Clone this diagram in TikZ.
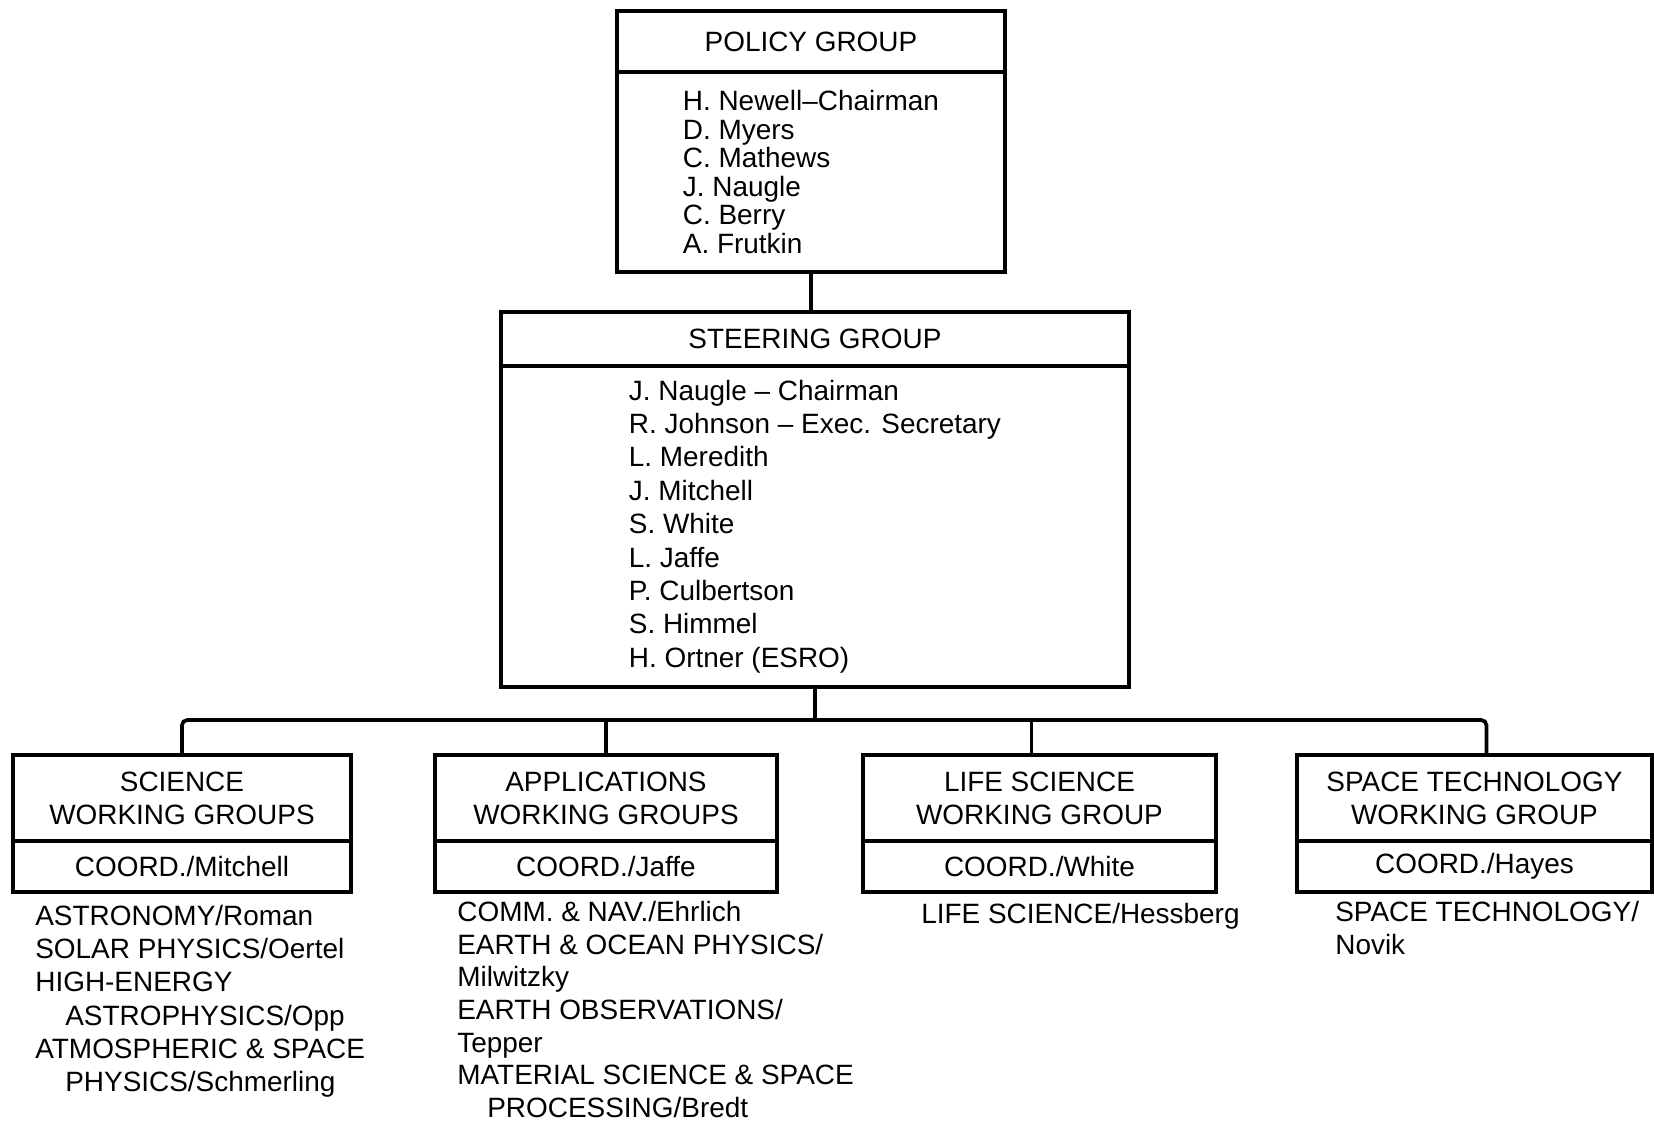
\documentclass[tikz,border=0pt]{standalone}
\usepackage{fontspec}
\setmainfont{Liberation Sans}
\usetikzlibrary{positioning}

\begin{document}
\begin{tikzpicture}[
        x=0.02cm, y=-0.02cm,
        every node/.style={font=\fontsize{15.9}{18.7}\selectfont},
        box/.style={draw, rectangle, line width=1.9pt, inner sep=0pt, outer sep=0pt, align=center, anchor=north west},
        list/.style={align=left, inner sep=0pt, font=\fontsize{15.9}{18.9}\selectfont},
        link/.style={line width=2.1pt, rounded corners=3pt}
    ]
    \useasboundingbox (0,0) rectangle (1654,1123);

    % top of the chart
    \node[box, minimum width=7.76cm, minimum height=1.22cm] (policy) at (617,11) {POLICY GROUP};
    \node[box, below=0pt of policy, minimum width=7.76cm, minimum height=4cm, align=left,
          font=\fontsize{15.9}{16.2}\selectfont] (policy_names)
        {H. Newell--Chairman\\ D. Myers\\ C. Mathews\\ J. Naugle\\ C. Berry\\ A. Frutkin};

    \node[box, minimum width=12.56cm, minimum height=1.08cm] (steering) at (501,312) {STEERING GROUP};
    \node[box, below=0pt of steering, minimum width=12.56cm, minimum height=6.42cm, align=left,
          font=\fontsize{15.9}{19}\selectfont] (steering_names)
        {J. Naugle -- Chairman\\ R. Johnson -- Exec. Secretary\\ L. Meredith\\ J. Mitchell\\ S. White\\
         L. Jaffe\\ P. Culbertson\\ S. Himmel\\ H. Ortner (ESRO)};

    % working groups
    \node[box, minimum width=6.76cm, minimum height=1.72cm] (science) at (13,755) {SCIENCE\\ WORKING GROUPS};
    \node[box, below=0pt of science, minimum width=6.76cm, minimum height=1.02cm] (science_coord) {COORD./Mitchell};

    \node[box, minimum width=6.84cm, minimum height=1.72cm] (applications) at (435,755) {APPLICATIONS\\ WORKING GROUPS};
    \node[box, below=0pt of applications, minimum width=6.84cm, minimum height=1.02cm] (applications_coord) {COORD./Jaffe};

    \node[box, minimum width=7.06cm, minimum height=1.72cm] (life) at (863,755) {LIFE SCIENCE\\ WORKING GROUP};
    \node[box, below=0pt of life, minimum width=7.06cm, minimum height=1.02cm] (life_coord) {COORD./White};

    \node[box, minimum width=7.1cm, minimum height=1.72cm] (spacetech) at (1297,755) {SPACE TECHNOLOGY\\ WORKING GROUP};
    \node[box, below=0pt of spacetech, minimum width=7.1cm, minimum height=1.02cm] (spacetech_coord) {COORD./Hayes};

    % lists under the boxes
    \node[list, below right=0.26cm and 0.44cm of science_coord.south west] (science_list)
        {ASTRONOMY/Roman\\ SOLAR PHYSICS/Oertel\\ HIGH-ENERGY\\ \hspace*{0.6cm}ASTROPHYSICS/Opp\\
         ATMOSPHERIC \& SPACE\\ \hspace*{0.6cm}PHYSICS/Schmerling};
    \node[list, below right=0.18cm and 0.44cm of applications_coord.south west,
          font=\fontsize{15.9}{18.6}\selectfont] (applications_list)
        {COMM. \& NAV./Ehrlich\\ EARTH \& OCEAN PHYSICS/\\ Milwitzky\\ EARTH OBSERVATIONS/\\ Tepper\\
         MATERIAL SCIENCE \& SPACE\\ \hspace*{0.6cm}PROCESSING/Bredt};
    \node[list, below right=0.22cm and 1.16cm of life_coord.south west] (life_list) {LIFE SCIENCE/Hessberg};
    \node[list, below right=0.18cm and 0.76cm of spacetech_coord.south west] (spacetech_list)
        {SPACE TECHNOLOGY/\\ Novik};

    % connectors
    \coordinate (bus) at (815,720);
    \draw[link] (policy_names.south) -- (policy_names.south |- steering.north);
    \draw[link] (steering_names.south) -- (bus);
    \draw[link] (science.north) |- (bus) -| ([xshift=0.24cm]spacetech.north);
    \draw[link] (applications.north) -- (applications.north |- bus);
    \draw[link] ([xshift=-0.16cm]life.north) -- ([xshift=-0.16cm]life.north |- bus);

\end{tikzpicture}
\end{document}
